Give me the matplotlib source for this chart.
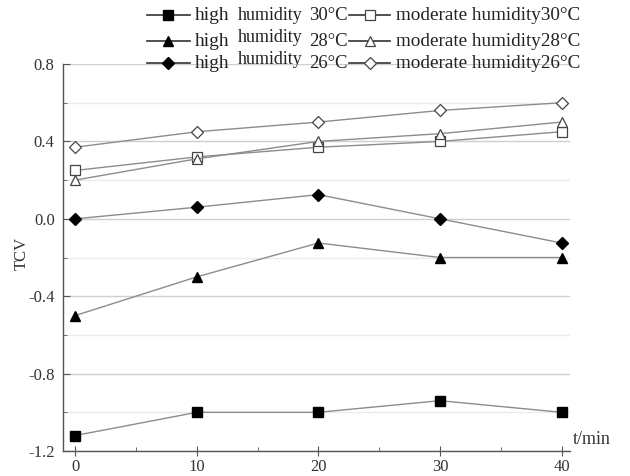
import matplotlib
matplotlib.use("Agg")
import matplotlib.pyplot as plt
from matplotlib.lines import Line2D
from matplotlib.ticker import MultipleLocator, FormatStrFormatter

plt.rcParams['font.family'] = ['Liberation Serif', 'DejaVu Serif']

t = [0, 10, 20, 30, 40]
high30 = [-1.12, -1.0, -1.0, -0.94, -1.0]
high28 = [-0.5, -0.3, -0.125, -0.2, -0.2]
high26 = [0.0, 0.06, 0.125, 0.0, -0.125]
mod30 = [0.25, 0.32, 0.37, 0.40, 0.45]
mod28 = [0.20, 0.31, 0.40, 0.44, 0.50]
mod26 = [0.37, 0.45, 0.50, 0.56, 0.60]

temps = ["30°C", "28°C", "26°C"]
labels_mod = ["moderate humidity30°C", "moderate humidity28°C", "moderate humidity26°C"]
markers = ['s', '^', 'D']

W, H = 630, 476
fig = plt.figure(figsize=(6.3, 4.76), dpi=100)
ax = fig.add_axes([0.1, 0.0525, 0.805, 0.813])

lc = '#8c8c8c'
ec = '#444444'
ms = 7

def msize(m):
    return ms - 1 if m == 'D' else ms

for y, m in zip([high30, high28, high26], markers):
    ax.plot(t, y, color=lc, lw=1, marker=m, markersize=msize(m),
            markerfacecolor='black', markeredgecolor='black', zorder=3)
for y, m in zip([mod30, mod28, mod26], markers):
    ax.plot(t, y, color=lc, lw=1, marker=m, markersize=msize(m),
            markerfacecolor='white', markeredgecolor=ec, markeredgewidth=0.9, zorder=3)

ax.set_xlim(-1, 40.7)
ax.set_ylim(-1.2, 0.8)
ax.xaxis.set_major_locator(MultipleLocator(10))
ax.xaxis.set_minor_locator(MultipleLocator(5))
ax.yaxis.set_major_locator(MultipleLocator(0.4))
ax.yaxis.set_minor_locator(MultipleLocator(0.2))
ax.yaxis.set_major_formatter(FormatStrFormatter('%.1f'))

for s in ['top', 'right']:
    ax.spines[s].set_visible(False)
for s in ['left', 'bottom']:
    ax.spines[s].set_color('#555555')
    ax.spines[s].set_linewidth(1)

ax.tick_params(axis='x', which='major', direction='inout', length=7, colors='#555555',
               labelcolor='#333333', labelsize=12, pad=2)
ax.tick_params(axis='x', which='minor', direction='in', length=3, colors='#555555')
ax.tick_params(axis='y', which='major', direction='in', length=5, colors='#555555',
               labelcolor='#333333', labelsize=12, pad=6)
ax.tick_params(axis='y', which='minor', direction='in', length=3, colors='#555555')

ax.grid(True, which='major', axis='y', color='#cfcfcf', lw=1)
ax.grid(True, which='minor', axis='y', color='#ebebeb', lw=1)
ax.set_axisbelow(True)

ax.set_ylabel('TCV', fontsize=12, color='#333333', va='center')
ax.yaxis.set_label_coords(-0.081, 0.51)
fig.text(573 / W, 1 - 440 / H, 't/min', fontsize=13, color='#333333', ha='left', va='center')

# manual legend (figure pixel layout)
rows_y = [15, 41, 63]
hum_y = [16, 37, 59]
tc = '#222222'
for i in range(3):
    yy = 1 - rows_y[i] / H
    m = markers[i]
    # column 1 handle
    fig.add_artist(Line2D([147 / W, 190 / W], [yy, yy], color='#333333', lw=1.2,
                          transform=fig.transFigure))
    fig.add_artist(Line2D([168 / W], [yy], marker=m, markersize=msize(m), color='black',
                          markerfacecolor='black', markeredgecolor='black',
                          transform=fig.transFigure))
    fig.text(195 / W, yy, 'high', fontsize=14, color=tc, ha='left', va='center')
    fig.text(238 / W, 1 - hum_y[i] / H, 'humidity', fontsize=13, color=tc,
             ha='left', va='center')
    fig.text(309 / W, yy, temps[i], fontsize=13.5, color=tc, ha='left', va='center')
    # column 2 handle
    fig.add_artist(Line2D([349 / W, 390 / W], [yy, yy], color='#333333', lw=1.2,
                          transform=fig.transFigure))
    fig.add_artist(Line2D([370 / W], [yy], marker=m, markersize=msize(m), color='black',
                          markerfacecolor='white', markeredgecolor=ec, markeredgewidth=0.9,
                          transform=fig.transFigure))
    fig.text(396 / W, yy, labels_mod[i], fontsize=13.8, color=tc, ha='left', va='center')

fig.savefig('out.png', dpi=100)
